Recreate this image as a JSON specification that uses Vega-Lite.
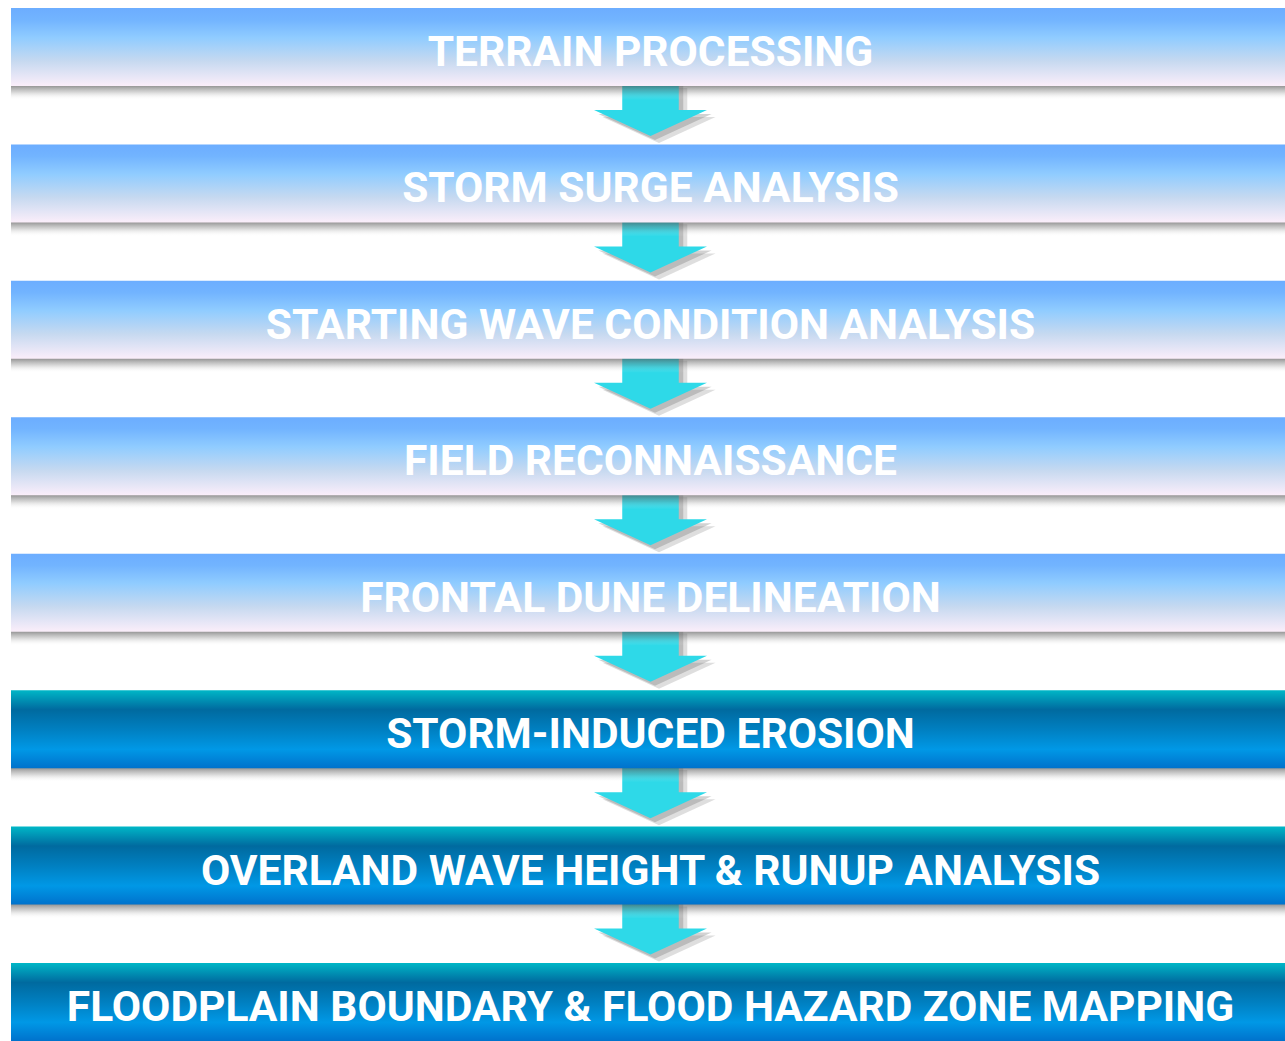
{
  "$schema": "https://vega.github.io/schema/vega-lite/v6.json",
  "width": 1274,
  "height": 1041,
  "autosize": {"type": "none"},
  "padding": {"left": 11, "top": 0, "right": 0, "bottom": 0},
  "background": "white",
  "config": {"view": {"stroke": null}},
  "data": {
    "values": [
      {"step": 1, "label": "TERRAIN PROCESSING", "phase": "light"},
      {"step": 2, "label": "STORM SURGE ANALYSIS", "phase": "light"},
      {"step": 3, "label": "STARTING WAVE CONDITION ANALYSIS", "phase": "light"},
      {"step": 4, "label": "FIELD RECONNAISSANCE", "phase": "light"},
      {"step": 5, "label": "FRONTAL DUNE DELINEATION", "phase": "light"},
      {"step": 6, "label": "STORM-INDUCED EROSION", "phase": "dark"},
      {"step": 7, "label": "OVERLAND WAVE HEIGHT & RUNUP ANALYSIS", "phase": "dark"},
      {"step": 8, "label": "FLOODPLAIN BOUNDARY & FLOOD HAZARD ZONE MAPPING", "phase": "dark"}
    ]
  },
  "encoding": {
    "y": {
      "field": "step",
      "type": "ordinal",
      "axis": null,
      "scale": {"range": [8, 1041], "paddingInner": 0.4283, "paddingOuter": 0}
    }
  },
  "layer": [
    {
      "transform": [{"filter": "datum.step < 8"}],
      "mark": {
        "type": "point",
        "shape": "M-0.5,0.6 L0.5,0.6 L0.5,1.115 L1,1.115 L0,1.575 L-1,1.115 L-0.5,1.115 Z",
        "size": 12769,
        "filled": true,
        "fill": "#6a6a6a",
        "opacity": 0.22,
        "strokeWidth": 0,
        "xOffset": 11,
        "yOffset": 7
      },
      "encoding": {}
    },
    {
      "transform": [{"filter": "datum.step < 8"}],
      "mark": {
        "type": "point",
        "shape": "M-0.5,0.6 L0.5,0.6 L0.5,1.115 L1,1.115 L0,1.575 L-1,1.115 L-0.5,1.115 Z",
        "size": 12769,
        "filled": true,
        "fill": "#6a6a6a",
        "opacity": 0.3,
        "strokeWidth": 0,
        "xOffset": 7,
        "yOffset": 4
      },
      "encoding": {}
    },
    {
      "transform": [{"filter": "datum.step < 8"}],
      "mark": {
        "type": "point",
        "shape": "M-0.5,0.6 L0.5,0.6 L0.5,1.115 L1,1.115 L0,1.575 L-1,1.115 L-0.5,1.115 Z",
        "size": 12769,
        "filled": true,
        "fill": "#2ed9e8",
        "opacity": 1,
        "strokeWidth": 0,
        "xOffset": 2.5
      },
      "encoding": {}
    },
    {
      "mark": {
        "type": "bar",
        "xOffset": 5,
        "yOffset": 14,
        "cornerRadius": 0,
        "fill": {
          "gradient": "linear",
          "x1": 0, "y1": 0, "x2": 0, "y2": 1,
          "stops": [
            {"offset": 0, "color": "rgba(80,80,80,0.6)"},
            {"offset": 0.82, "color": "rgba(80,80,80,0.6)"},
            {"offset": 0.9, "color": "rgba(120,120,120,0.3)"},
            {"offset": 1, "color": "rgba(255,255,255,0)"}
          ]
        }
      },
      "encoding": {}
    },
    {
      "transform": [{"filter": "datum.phase === 'light'"}],
      "mark": {
        "type": "bar",
        "fill": {
          "gradient": "linear",
          "x1": 0, "y1": 0, "x2": 0, "y2": 1,
          "stops": [
            {"offset": 0, "color": "#6cadff"},
            {"offset": 0.15, "color": "#72b4ff"},
            {"offset": 0.38, "color": "#90ccff"},
            {"offset": 0.68, "color": "#c6d9f0"},
            {"offset": 1, "color": "#fbeefa"}
          ]
        }
      },
      "encoding": {}
    },
    {
      "transform": [{"filter": "datum.phase === 'dark'"}],
      "mark": {
        "type": "bar",
        "fill": {
          "gradient": "linear",
          "x1": 0, "y1": 0, "x2": 0, "y2": 1,
          "stops": [
            {"offset": 0, "color": "#00b7c7"},
            {"offset": 0.25, "color": "#006a9f"},
            {"offset": 0.5, "color": "#007fc0"},
            {"offset": 0.76, "color": "#0098e6"},
            {"offset": 1, "color": "#0072cc"}
          ]
        }
      },
      "encoding": {}
    },
    {
      "mark": {
        "type": "text",
        "font": "Roboto",
        "fontWeight": "bold",
        "fontSize": 42.5,
        "fill": "white",
        "baseline": "alphabetic",
        "align": "center",
        "dy": 19,
        "xOffset": 2.5
      },
      "encoding": {"text": {"field": "label"}}
    }
  ]
}
